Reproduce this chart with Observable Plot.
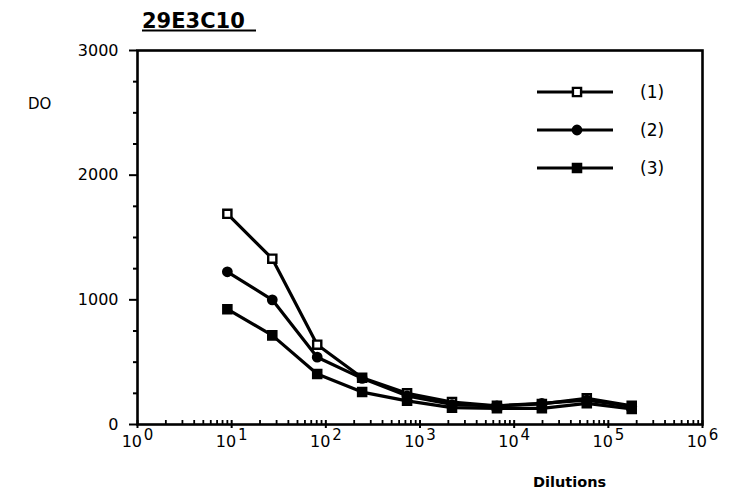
<!DOCTYPE html>
<html>
<head>
<meta charset="utf-8">
<script src="https://cdn.jsdelivr.net/npm/d3@7"></script>
<script src="https://cdn.jsdelivr.net/npm/@observablehq/plot@0.6"></script>
<style>
  html, body { margin: 0; padding: 0; background: #fff; }
  #wrap { position: relative; width: 732px; height: 503px; font-family: "DejaVu Sans", sans-serif; }
  #overlay { position: absolute; left: 0; top: 0; pointer-events: none; }
</style>
</head>
<body>
<div id="wrap"></div>
<script>
// ---- data ----
const title = "29E3C10";
const yLabel = "DO";
const xLabel = "Dilutions";
const seriesNames = ["(1)", "(2)", "(3)"];
const dilutions = [9, 27, 81, 243, 729, 2187, 6561, 19683, 59049, 177147];
const serie1 = [1690, 1330, 640, 375, 250, 180, 150, 165, 210, 150];
const serie2 = [1225, 1000, 540, 370, 230, 160, 150, 170, 195, 145];
const serie3 = [925, 715, 405, 260, 190, 135, 130, 130, 170, 125];
const xMajor = [1, 10, 100, 1000, 10000, 100000, 1000000];
const yMajor = [0, 1000, 2000, 3000];
const yMinor = [250, 500, 750, 1250, 1500, 1750, 2250, 2500, 2750];

const xMinor = [];
for (const d of xMajor.slice(0, -1)) for (let k = 2; k <= 9; k++) xMinor.push(d * k);

const seriesVals = [serie1, serie2, serie3];
const rows = [];
seriesVals.forEach((vals, i) => vals.forEach((v, j) => rows.push({s: seriesNames[i], x: dilutions[j], y: v})));

const symbols = {"(1)": "square", "(2)": "circle", "(3)": "square"};
const fills = {"(1)": "white", "(2)": "black", "(3)": "black"};
const radii = {"(1)": 4.6, "(2)": 4.2, "(3)": 4.6};

const chart = Plot.plot({
  width: 732,
  height: 503,
  marginLeft: 137,
  marginRight: 30,
  marginTop: 50,
  marginBottom: 79,
  style: {fontFamily: "DejaVu Sans, sans-serif", fontSize: "16px", color: "black", background: "white"},
  x: {type: "log", domain: [1, 1e6]},
  y: {domain: [0, 3000]},
  marks: [
    Plot.frame({stroke: "black", strokeWidth: 2.6}),
    Plot.axisY({ticks: yMajor, tickSize: 8, tickPadding: 11, tickFormat: d => String(d), label: null, strokeWidth: 2}),
    Plot.axisY({ticks: yMinor, tickSize: 4, tickFormat: () => "", label: null, strokeWidth: 2}),
    Plot.axisX({ticks: xMinor, tickSize: 4, dy: -4, tickFormat: () => "", label: null, strokeWidth: 1.8}),
    Plot.axisX({ticks: xMajor, tickSize: 8, dy: -4, tickFormat: () => "", label: null, strokeWidth: 2}),
    Plot.axisX({ticks: xMajor, tickSize: 0, tickPadding: 11, tickFormat: d => "10|" + Math.round(Math.log10(d)), label: null}),
    ...seriesNames.map(name =>
      Plot.line(rows.filter(r => r.s === name), {x: "x", y: "y", stroke: "black", strokeWidth: 3.2})
    ),
    ...seriesNames.map(name =>
      Plot.dot(rows.filter(r => r.s === name), {x: "x", y: "y", symbol: symbols[name], r: radii[name], fill: fills[name], stroke: "black", strokeWidth: 2.4})
    )
  ]
});

// superscript exponents on x tick labels
d3.select(chart).selectAll('g[aria-label="x-axis tick label"] text').each(function() {
  const t = d3.select(this);
  const txt = t.text();
  if (!txt.includes("|")) return;
  const parts = txt.split("|");
  t.text(parts[0]);
  t.append("tspan").attr("dy", "-0.45em").attr("dx", "0.12em").attr("font-size", "15px").text(parts[1]);
});

document.getElementById("wrap").appendChild(chart);

// overlay texts and legend
const ov = d3.select("#wrap").append("svg").attr("id", "overlay").attr("width", 732).attr("height", 503)
  .style("font-family", "DejaVu Sans, sans-serif");

ov.append("text").attr("x", 142).attr("y", 28).attr("font-size", "21px").attr("font-weight", "bold").text(title);
ov.append("line").attr("x1", 142).attr("x2", 256).attr("y1", 30.5).attr("y2", 30.5).attr("stroke", "black").attr("stroke-width", 2);
ov.append("text").attr("x", 28).attr("y", 109).attr("font-size", "15px").text(yLabel);
ov.append("text").attr("x", 533).attr("y", 487).attr("font-size", "14.5px").attr("font-weight", "bold").text(xLabel);

const legendY = [92, 130, 168];
seriesNames.forEach((name, i) => {
  const g = ov.append("g").attr("transform", `translate(0,${legendY[i]})`);
  g.append("line").attr("x1", 537).attr("x2", 613).attr("stroke", "black").attr("stroke-width", 3.2);
  const sym = d3.symbol(symbols[name] === "square" ? d3.symbolSquare : d3.symbolCircle, Math.PI * radii[name] ** 2);
  g.append("path").attr("d", sym()).attr("transform", "translate(577,0)")
    .attr("fill", fills[name]).attr("stroke", "black").attr("stroke-width", 2.4);
  g.append("text").attr("x", 640).attr("y", 6).attr("font-size", "17px").text(name);
});
</script>
</body>
</html>
